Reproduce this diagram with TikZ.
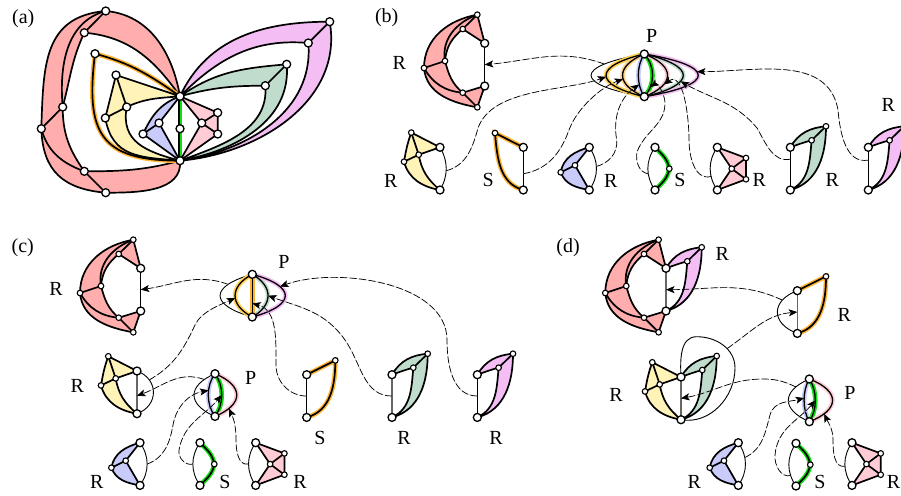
\documentclass[tikz,border=0pt]{standalone}
\usepackage{fontspec}
\setmainfont{Liberation Serif}
\usetikzlibrary{arrows.meta}

\pgfdeclarelayer{edges}
\pgfsetlayers{edges,main}

\definecolor{redfill}{HTML}{FFADAD}
\definecolor{yelfill}{HTML}{FFF3B8}
\definecolor{bluefill}{HTML}{C9CBFA}
\definecolor{pinkfill}{HTML}{FFCCD6}
\definecolor{tealfill}{HTML}{C0DCCC}
\definecolor{magfill}{HTML}{F4BDF4}
\definecolor{orangeline}{HTML}{FFB233}
\definecolor{goldline}{HTML}{FFD050}
\definecolor{greenline}{HTML}{10E010}

\tikzset{
  bigv/.style={circle, draw=black, fill=white, line width=1.3pt, inner sep=0pt, minimum size=8pt},
  smallv/.style={circle, draw=black, fill=white, line width=1.1pt, inner sep=0pt, minimum size=5.6pt},
  fatedge/.style={draw=black, line width=1.7pt, line join=round},
  thinedge/.style={draw=black, line width=0.9pt},
  poleedge/.style={draw=black!60, line width=1.3pt},
  halo/.style={line width=4.6pt, line cap=round},
  link/.style={-{Stealth[length=8.5pt,width=7pt,inset=2pt]}, draw=black, line width=0.7pt, dash pattern=on 7pt off 2.5pt, preaction={draw=gray!50, solid}},
  lab/.style={inner sep=0pt, font=\fontsize{20}{20}\selectfont}
}

\newcommand{\poles}[3]{
  \node[bigv] (#1T) at (#2,#3) {};
  \node[bigv] (#1B) at (#2,#3-42.7) {};
}
\newcommand{\poleline}[3]{
  \begin{pgfonlayer}{edges}
    \draw[#3] (#1T.center) -- coordinate[pos=#2] (#1m) (#1B.center);
  \end{pgfonlayer}
}
\newcommand{\polearc}[4]{
  \begin{pgfonlayer}{edges}
    \draw[thinedge] (#1T.center) to[out=#2, in=-#2, looseness=#4] coordinate[pos=#3] (#1c) (#1B.center);
  \end{pgfonlayer}
}

% red piece: name, poles
\newcommand{\redpiece}[2]{
  \begin{scope}[shift={(#2T.center)}]
    \node[smallv] (#1top) at (-7.4,28.6) {};
    \node[smallv] (#1itop) at (-22,14.3) {};
    \node[smallv] (#1left) at (-60.7,-24.7) {};
    \node[smallv] (#1ileft) at (-39.7,-17.7) {};
    \node[smallv] (#1ibot) at (-22,-49.4) {};
    \node[smallv] (#1bot) at (-7.4,-64) {};
  \end{scope}
  \begin{pgfonlayer}{edges}
    \draw[fatedge, fill=redfill] (#1top.center) to[out=190,in=90] (#1left.center) to[out=-85,in=170] (#1bot.center) -- (#2B.center) -- (#1ibot.center) to[out=140,in=-75] (#1ileft.center) to[out=85,in=220] (#1itop.center) -- (#2T.center) -- (#1top.center);
    \draw[fatedge] (#1top.center) -- (#1itop.center);
    \draw[fatedge] (#1top.center) to[out=200,in=100] (#1ileft.center);
    \draw[fatedge] (#1left.center) -- (#1ileft.center);
    \draw[fatedge] (#1left.center) to[out=-60,in=175] (#1ibot.center);
    \draw[fatedge] (#1ibot.center) -- (#1bot.center);
  \end{pgfonlayer}
}

% yellow piece
\newcommand{\yelpiece}[2]{
  \begin{scope}[shift={(#2T.center)}]
    \node[smallv] (#1top) at (-28.7,14.7) {};
    \node[smallv] (#1in) at (-21.3,-7.4) {};
    \node[smallv] (#1left) at (-36,-14.4) {};
  \end{scope}
  \begin{pgfonlayer}{edges}
    \draw[fatedge, fill=yelfill] (#1top.center) -- (#2T.center) -- (#1in.center) to[out=-80,in=140] (#2B.center) to[out=170,in=-75] (#1left.center) to[out=80,in=250] (#1top.center);
    \draw[fatedge] (#1top.center) -- (#1in.center) -- (#1left.center);
  \end{pgfonlayer}
}

% leaf piece (green-grey and lilac)
\newcommand{\leafpiece}[3]{
  \begin{scope}[shift={(#2T.center)}]
    \node[smallv] (#1tip) at (35.7,21) {};
    \node[smallv] (#1in) at (21.3,7) {};
  \end{scope}
  \begin{pgfonlayer}{edges}
    \draw[fatedge, fill=#3] (#2T.center) to[out=60,in=185] (#1tip.center) to[out=-90,in=15] (#2B.center) to[out=25,in=-95] (#1in.center) to[out=195,in=20] (#2T.center);
    \draw[fatedge] (#1in.center) -- (#1tip.center);
  \end{pgfonlayer}
}

\newcommand{\bluepiece}[1]{
  \begin{scope}[shift={(#1T.center)}]
    \node[smallv] (#1in) at (-14.3,-18) {};
    \node[smallv] (#1left) at (-28.6,-25) {};
  \end{scope}
  \begin{pgfonlayer}{edges}
    \draw[fatedge, fill=bluefill] (#1T.center) to[out=195,in=80] (#1left.center) to[out=-70,in=170] (#1B.center) -- (#1in.center) -- (#1T.center);
    \draw[fatedge] (#1in.center) -- (#1left.center);
  \end{pgfonlayer}
}

\newcommand{\pinkpiece}[1]{
  \begin{scope}[shift={(#1T.center)}]
    \node[smallv] (#1a) at (28.7,-10.7) {};
    \node[smallv] (#1b) at (28.7,-32) {};
    \node[smallv] (#1c) at (14.4,-21.4) {};
  \end{scope}
  \begin{pgfonlayer}{edges}
    \draw[fatedge, fill=pinkfill] (#1T.center) -- (#1a.center) -- (#1b.center) -- (#1B.center) -- (#1c.center) -- cycle;
    \draw[fatedge] (#1a.center) -- (#1c.center) -- (#1b.center);
  \end{pgfonlayer}
}

% green path with one vertex
\newcommand{\greenpath}[1]{
  \begin{scope}[shift={(#1T.center)}]
    \node[smallv] (#1mid) at (14.3,-21.4) {};
  \end{scope}
  \begin{pgfonlayer}{edges}
    \draw[halo, draw=greenline] (#1T.center) to[out=-45,in=100] (#1mid.center) to[out=-100,in=45] (#1B.center);
    \draw[fatedge] (#1T.center) to[out=-45,in=100] (#1mid.center) to[out=-100,in=45] (#1B.center);
  \end{pgfonlayer}
}

% orange path: name, tip x, out, in
\newcommand{\orangepath}[4]{
  \begin{scope}[shift={(#1T.center)}]
    \node[smallv] (#1tip) at (#2,14.3) {};
  \end{scope}
  \begin{pgfonlayer}{edges}
    \draw[halo, draw=orangeline] (#1T.center) -- (#1tip.center) to[out=#3,in=#4] (#1B.center);
    \draw[fatedge] (#1T.center) -- (#1tip.center) to[out=#3,in=#4] (#1B.center);
  \end{pgfonlayer}
}

% parallel bundle: name, thin bulge, thin pos, list bulge/colour/pos/number
\newcommand{\bundle}[4]{
  \begin{pgfonlayer}{edges}
    \draw[thinedge] (#1T.center) .. controls +(#2,-12) and +(#2,12) .. coordinate[pos=#3] (#1p0) (#1B.center);
    \foreach \bx/\col/\ps/\nm in {#4} {
      \draw[halo, draw=\col] (#1T.center) .. controls +(\bx,-12) and +(\bx,12) .. (#1B.center);
    }
    \foreach \bx/\col/\ps/\nm in {#4} {
      \draw[draw=black, line width=1.3pt] (#1T.center) .. controls +(\bx,-12) and +(\bx,12) .. coordinate[pos=\ps] (#1p\nm) (#1B.center);
    }
  \end{pgfonlayer}
}

\begin{document}
\begin{tikzpicture}[x=1pt, y=1pt]
\useasboundingbox (0,0) rectangle (901,-495);

% Part (a)
\node[bigv] (aT) at (180,-96.3) {};
\node[bigv] (aB) at (180,-160.7) {};
\node[bigv] (am) at (180,-128.7) {};
\node[bigv] (artop) at (105.7,-11) {};
\node[bigv] (aritop) at (84.3,-32.7) {};
\node[bigv] (arleft) at (41.3,-128.7) {};
\node[bigv] (arileft) at (62.7,-107) {};
\node[bigv] (aribot) at (84.3,-171.3) {};
\node[bigv] (arbot) at (105.7,-192.7) {};
\node[bigv] (aotip) at (95,-53.7) {};
\node[bigv] (aytop) at (116,-75) {};
\node[bigv] (ayin) at (126.7,-107) {};
\node[bigv] (ayleft) at (105.3,-118) {};
\node[bigv] (abin) at (159,-123) {};
\node[bigv] (ableft) at (143,-134) {};
\node[bigv] (aka) at (217.7,-112.7) {};
\node[bigv] (akc) at (201.7,-123) {};
\node[bigv] (akb) at (217.7,-134) {};
\node[bigv] (attip) at (286.7,-64.3) {};
\node[bigv] (atin) at (265.3,-85.7) {};
\node[bigv] (amtip) at (329.7,-21.7) {};
\node[bigv] (amin) at (308.3,-43) {};

\begin{pgfonlayer}{edges}
  \draw[fatedge, fill=redfill] (artop.center) to[out=185,in=88,looseness=1.2] (arleft.center) to[out=-88,in=175,looseness=1.2] (arbot.center) to[out=0,in=-85] (aB.center) to[out=195,in=0] (aribot.center) to[out=125,in=-90] (arileft.center) to[out=75,in=245] (aritop.center) to[out=-5,in=125] (aT.center) to[out=100,in=-5] (artop.center);
  \draw[fatedge] (artop.center) -- (aritop.center);
  \draw[fatedge] (artop.center) to[out=195,in=95] (arileft.center);
  \draw[fatedge] (arleft.center) -- (arileft.center);
  \draw[fatedge] (arleft.center) to[out=-75,in=160] (aribot.center);
  \draw[fatedge] (aribot.center) -- (arbot.center);

  \draw[halo, draw=orangeline] (aT.center) to[out=145,in=-15] (aotip.center) to[out=-97,in=180,looseness=1.5] (aB.center);
  \draw[fatedge] (aT.center) to[out=145,in=-15] (aotip.center) to[out=-97,in=180,looseness=1.5] (aB.center);

  \draw[fatedge, fill=yelfill] (aytop.center) -- (aT.center) to[out=185,in=25] (ayin.center) to[out=-100,in=165,looseness=1.2] (aB.center) to[out=175,in=-80,looseness=1.2] (ayleft.center) -- (aytop.center);
  \draw[fatedge] (aytop.center) -- (ayin.center) -- (ayleft.center);

  \draw[fatedge, fill=bluefill] (aT.center) to[out=200,in=65] (ableft.center) -- (aB.center) -- (abin.center) -- cycle;
  \draw[fatedge] (ableft.center) -- (abin.center);

  \draw[line width=3pt, draw=greenline] ([xshift=0.6pt]aT.center) -- ([xshift=0.6pt]aB.center);
  \draw[draw=black, line width=1.3pt] ([xshift=-0.9pt]aT.center) -- ([xshift=-0.9pt]aB.center);

  \draw[fatedge, fill=pinkfill] (aT.center) -- (aka.center) -- (akb.center) -- (aB.center) -- (akc.center) -- cycle;
  \draw[fatedge] (aka.center) -- (akc.center) -- (akb.center);

  \draw[fatedge, fill=tealfill] (aT.center) to[out=35,in=185] (attip.center) to[out=-85,in=10] (aB.center) to[out=20,in=-85] (atin.center) to[out=180,in=15] (aT.center);
  \draw[fatedge] (atin.center) -- (attip.center);

  \draw[fatedge, fill=magfill] (aT.center) to[out=65,in=180] (amtip.center) to[out=-80,in=5] (aB.center) to[out=8,in=-85] (amin.center) to[out=175,in=45] (aT.center);
  \draw[fatedge] (amin.center) -- (amtip.center);
\end{pgfonlayer}

% Part (b)
\poles{br}{484.7}{-43.3}
\redpiece{br}{br}
\poleline{br}{.5}{thinedge}
\poles{by}{440}{-147.3}
\yelpiece{by}{by}
\polearc{by}{-60}{.55}{1}
\poles{bs}{523.3}{-147.3}
\orangepath{bs}{-28.3}{-85}{165}
\poleline{bs}{.62}{thinedge}
\poles{bb}{589.3}{-147.3}
\bluepiece{bb}
\polearc{bb}{-55}{.45}{1}
\poles{bg}{655}{-147.3}
\greenpath{bg}
\polearc{bg}{-125}{.62}{1}
\poles{bk}{717.3}{-147.3}
\pinkpiece{bk}
\polearc{bk}{-125}{.68}{1}
\poles{bt}{790.3}{-147.3}
\leafpiece{bt}{bt}{tealfill}
\poleline{bt}{.28}{thinedge}
\poles{bm}{868.3}{-147.3}
\leafpiece{bm}{bm}{magfill}
\poleline{bm}{.3}{thinedge}
\poles{bq}{644.3}{-54}
\bundle{bq}{-71}{.25}{-51/goldline/.53/1, -29/orangeline!60/.58/2, -8/bluefill/.7/3, 11/greenline/.76/4, 31/pinkfill/.7/5, 52/tealfill/.63/6, 72/magfill/.42/7}

\draw[link] (bqp0) to[out=160,in=5] (brm);
\draw[link] (byc) to[out=15,in=-105] (478,-128) to[out=70,in=200,looseness=.8] (bqp1);
\draw[link] (bsm) to[out=10,in=-110] (569,-130) to[out=70,in=200,looseness=.8] (bqp2);
\draw[link] (bbc) to[out=15,in=-85] (616.7,-140) to[out=100,in=215] (bqp3);
\draw[link] (bgc) to[out=170,in=-100] (637,-152) to[out=70,in=-90] (665,-103) to[out=90,in=35] (bqp4);
\draw[link] (bkc) to[out=195,in=-90] (689,-140) to[out=90,in=35] (bqp5);
\draw[link] (btm) to[out=190,in=-60] (757,-128) to[out=130,in=-30] (bqp6);
\draw[link] (bmm) to[out=190,in=-85] (838,-110) to[out=100,in=0] (bqp7);

% Part (c)
\poles{cr}{140.7}{-268.3}
\redpiece{cr}{cr}
\poleline{cr}{.5}{thinedge}
\poles{cy}{137}{-371}
\yelpiece{cy}{cy}
\poleline{cy}{.58}{poleedge}
\polearc{cy}{-20}{.25}{1.4}
\poles{cb}{140}{-442.7}
\bluepiece{cb}
\polearc{cb}{-55}{.5}{1}
\poles{cg}{200}{-442.7}
\greenpath{cg}
\polearc{cg}{-125}{.5}{1}
\poles{ck}{255.7}{-442.7}
\pinkpiece{ck}
\polearc{ck}{-125}{.5}{1}
\poles{cs}{306.7}{-374.7}
\orangepath{cs}{28.6}{-90}{15}
\poleline{cs}{.5}{thinedge}
\poles{ct}{392}{-374.7}
\leafpiece{ct}{ct}{tealfill}
\poleline{ct}{.5}{poleedge}
\poles{cm}{477.3}{-374.7}
\leafpiece{cm}{cm}{magfill}
\poleline{cm}{.5}{thinedge}
\poles{cq}{252.3}{-274.3}
\bundle{cq}{-43}{.25}{-23/goldline/.55/1, 0/orangeline/.67/2, 21/tealfill/.5/3, 44/magfill/.3/4}
\poles{cu}{215}{-373.7}
\bundle{cu}{-28}{.15}{-9/bluefill/.4/1, 9/greenline/.5/2, 29/pinkfill/.8/3}

\draw[link] (cqp0) to[out=160,in=8] (crm);
\draw[link] (cyc) to[out=30,in=-115] (195,-325) to[out=65,in=205,looseness=.8] (cqp1);
\draw[link] (cup0) to[out=160,in=20] (cym);
\draw[link] (csm) to[out=180,in=-90] (276,-365) to[out=90,in=-15] (cqp2);
\draw[link] (ctm) to[out=180,in=-55] (345,-340) to[out=125,in=-20] (cqp3);
\draw[link] (cmm) to[out=180,in=-90] (447,-340) to[out=90,in=20,looseness=.85] (cqp4);
\draw[link] (cbc) to[out=20,in=-100] (173,-425) to[out=80,in=190] (cup1);
\draw[link] (cgc) to[out=195,in=-100] (179,-450) to[out=80,in=-130] (cup2);
\draw[link] (ckc) to[out=190,in=-90] (236,-440) to[out=90,in=-65] (cup3);

% Part (d)
\poles{dr}{666}{-268.3}
\redpiece{dr}{dr}
\leafpiece{dm}{dr}{magfill}
\poleline{dr}{.5}{poleedge}
\poles{ds}{797.3}{-290.7}
\orangepath{ds}{28.7}{-90}{15}
\poleline{ds}{.5}{poleedge}
\polearc{ds}{-160}{.25}{1.7}
\poles{dy}{681}{-377}
\yelpiece{dy}{dy}
\leafpiece{dt}{dy}{tealfill}
\poleline{dy}{.5}{poleedge}
\begin{pgfonlayer}{edges}
  \draw[thinedge] (dyT.center) to[out=93,in=180] (696.7,-336.7) to[out=0,in=90] coordinate[pos=.6] (dyl) (735,-368) to[out=-90,in=-10] (dyB.center);
\end{pgfonlayer}
\poles{db}{738.3}{-442.7}
\bluepiece{db}
\polearc{db}{-55}{.35}{1}
\poles{dg}{796}{-443.3}
\greenpath{dg}
\polearc{dg}{-125}{.75}{1}
\poles{dk}{852}{-442.7}
\pinkpiece{dk}
\polearc{dk}{-125}{.55}{1}
\poles{dq}{809.3}{-379}
\bundle{dq}{-28}{.2}{-7/bluefill/.45/1, 8/greenline/.5/2, 31/pinkfill/.8/3}

\draw[link] (dsc) to[out=155,in=0] (drm);
\draw[link] (dyl) to[out=35,in=185] (dsm);
\draw[link] (dqp0) to[out=155,in=0] (763,-379) to[out=180,in=10] (dym);
\draw[link] (dbc) to[out=25,in=-105] (770,-415) to[out=75,in=195] (dqp1);
\draw[link] (dgc) to[out=195,in=-95] (775,-455) to[out=85,in=-130] (dqp2);
\draw[link] (dkc) to[out=190,in=-90] (833,-440) to[out=90,in=-65] (dqp3);

% Labels
\foreach \nm/\x/\y/\tx in {
  la/23.3/-18.3/(a), lb/386.7/-17.3/(b), lc/22.7/-247.7/(c), ld/568/-248/(d),
  l1/399.3/-63.3/R, l2/390.7/-181/R, l3/488.3/-180/S, l4/610.7/-181/R, l5/680/-180/S, l6/759.3/-180/R, l7/832.3/-180/R, l8/888.3/-105/R, l9/651.7/-36/P,
  l10/56/-289.3/R, l11/284/-262.3/P, l12/77.3/-386/R, l13/250.7/-378.3/P, l14/96.7/-481.7/R, l15/225/-481.7/S, l16/300/-481.7/R, l17/320/-438.3/S, l18/404/-438.3/R, l19/496/-438.3/R,
  l20/722.3/-254.3/R, l21/844.3/-315/R, l22/616/-395/R, l23/850/-393.3/P, l24/694.3/-481.7/R, l25/820/-481.7/S, l26/893.5/-481.7/R} {
  \node[lab] (\nm) at (\x,\y) {\tx};
}

\end{tikzpicture}
\end{document}
